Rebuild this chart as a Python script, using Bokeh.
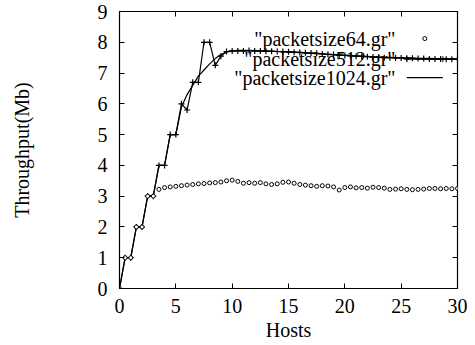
from bokeh.plotting import figure
from bokeh.models import Range1d, LinearAxis, FixedTicker, Label
from bokeh.embed import file_html
from bokeh.resources import INLINE

hosts = [i * 0.5 for i in range(61)]

ps64 = [0, 1, 1, 2, 2, 3, 3,
        3.22, 3.28, 3.30, 3.32, 3.34, 3.36, 3.38, 3.40, 3.41, 3.43,
        3.44, 3.46, 3.50, 3.52, 3.48, 3.42, 3.44, 3.42, 3.44, 3.40,
        3.38, 3.40, 3.45, 3.46, 3.42, 3.38, 3.36, 3.34, 3.32, 3.34,
        3.33, 3.30, 3.20, 3.28, 3.30, 3.27, 3.28, 3.26, 3.29, 3.28,
        3.26, 3.22, 3.23, 3.24, 3.22, 3.21, 3.22, 3.23, 3.25, 3.25,
        3.24, 3.25, 3.24, 3.25]

ps512 = [0, 1, 1, 2, 2, 3, 3, 4, 4, 5, 5, 6, 5.8, 6.7, 6.7, 8, 8, 7.25, 7.55, 7.7, 7.72,
         7.72, 7.72, 7.73, 7.72, 7.72, 7.71, 7.71, 7.70, 7.70, 7.69,
         7.68, 7.67, 7.66, 7.65, 7.64, 7.62, 7.61, 7.60, 7.58, 7.57,
         7.56, 7.55, 7.54, 7.53, 7.52, 7.51, 7.50, 7.50, 7.49, 7.49,
         7.48, 7.48, 7.47, 7.47, 7.46, 7.46, 7.46, 7.45, 7.45, 7.45]

ps1024 = [0, 1, 1, 2, 2, 3, 3, 4, 4, 5, 5, 5.9, 6.3, 6.6, 6.9, 7.1, 7.3, 7.47, 7.6, 7.68, 7.72,
          7.74, 7.74, 7.74, 7.73, 7.72, 7.71, 7.70, 7.70, 7.69, 7.68,
          7.67, 7.66, 7.65, 7.64, 7.63, 7.62, 7.61, 7.60, 7.59, 7.58,
          7.57, 7.56, 7.55, 7.54, 7.53, 7.52, 7.51, 7.51, 7.50, 7.50,
          7.49, 7.49, 7.48, 7.48, 7.48, 7.47, 7.47, 7.47, 7.46, 7.46]

series_names = ['"packetsize64.gr"', '"packetsize512.gr"', '"packetsize1024.gr"']
x_ticks = [0, 5, 10, 15, 20, 25, 30]
y_ticks = [0, 1, 2, 3, 4, 5, 6, 7, 8, 9]

FONT = "Liberation Serif"
FS = "20px"

p = figure(width=468, height=343, output_backend="svg", toolbar_location=None,
           x_range=Range1d(0, 30), y_range=Range1d(0, 9),
           min_border_left=119, min_border_right=11, min_border_top=11, min_border_bottom=50,
           background_fill_color="white", border_fill_color="white")
p.grid.visible = False
p.outline_line_color = "black"
p.outline_line_width = 1.2

for ax in (p.xaxis[0], p.yaxis[0]):
    ax.major_tick_in = 5
    ax.major_tick_out = 0
    ax.minor_tick_in = 0
    ax.minor_tick_out = 0
    ax.major_label_text_font = FONT
    ax.major_label_text_font_size = FS
    ax.major_label_text_color = "black"
    ax.axis_label_text_font = FONT
    ax.axis_label_text_font_size = FS
    ax.axis_label_text_font_style = "normal"
    ax.axis_label_text_color = "black"
    ax.axis_line_color = "black"

p.xaxis[0].ticker = FixedTicker(ticks=x_ticks)
p.yaxis[0].ticker = FixedTicker(ticks=y_ticks)
p.xaxis[0].axis_label = "Hosts"
p.yaxis[0].axis_label = "Throughput(Mb)"
p.xaxis[0].major_label_standoff = 10
p.xaxis[0].axis_label_standoff = 3
p.yaxis[0].major_label_standoff = 12
p.yaxis[0].axis_label_standoff = 62

for ticks, loc in ((y_ticks, "right"), (x_ticks, "above")):
    ax = LinearAxis(ticker=FixedTicker(ticks=ticks))
    ax.major_tick_in = 5
    ax.major_tick_out = 0
    ax.minor_tick_in = 0
    ax.minor_tick_out = 0
    ax.major_label_overrides = {t: "" for t in ticks}
    ax.major_label_standoff = 0
    ax.axis_line_color = None
    p.add_layout(ax, loc)

# data
p.line(hosts, ps1024, line_color="black", line_width=1.2)
p.line(hosts, ps512, line_color="black", line_width=1.2)
p.scatter(hosts, ps512, marker="cross", size=6, line_color="black", line_width=1.2)
p.scatter(hosts, ps64, marker="circle", size=4, fill_color="white", line_color="black", line_width=1)

# key (gnuplot style: text then sample)
key_text_x = 24.5
key_rows_y = [8.12, 7.45, 6.85]
key_sample = (25.5, 28.7)
for name, yy in zip(series_names, key_rows_y):
    p.add_layout(Label(x=key_text_x, y=yy, text=name, text_font=FONT, text_font_size=FS,
                       text_align="right", text_baseline="middle", text_color="black"))
p.scatter([sum(key_sample) / 2], [key_rows_y[0]], marker="circle", size=4,
          fill_color="white", line_color="black", line_width=1)
p.line(list(key_sample), [key_rows_y[1]] * 2, line_color="black", line_width=1.2)
p.scatter(list(key_sample), [key_rows_y[1]] * 2, marker="cross", size=6, line_color="black")
p.line(list(key_sample), [key_rows_y[2]] * 2, line_color="black", line_width=1.2)

open("out.html", "w").write(file_html(p, INLINE))
